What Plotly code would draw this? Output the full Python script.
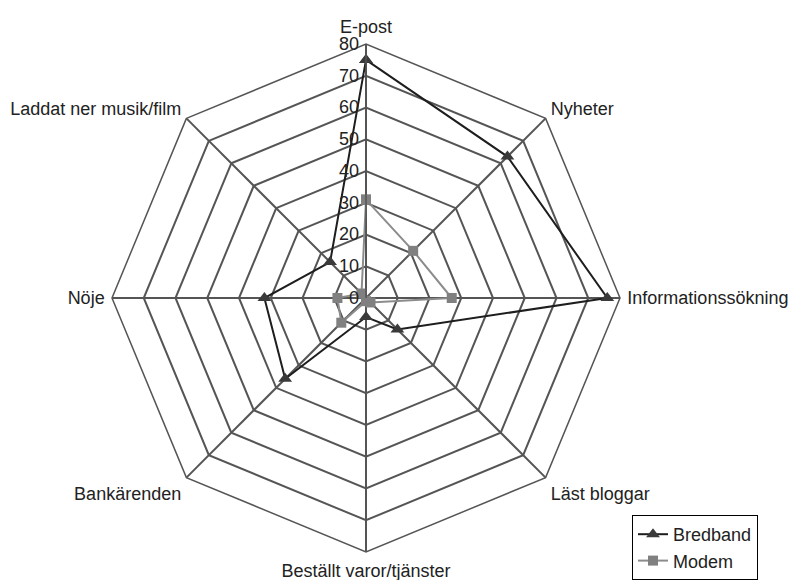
import plotly.graph_objects as go

categories = ["E-post", "Nyheter", "Informationssökning", "Läst bloggar",
              "Beställt varor/tjänster", "Bankärenden", "Nöje", "Laddat ner musik/film"]
bredband = [75, 63, 76, 14, 6, 36, 32, 16]
modem = [31, 21, 27, 2, 1, 11, 9, 2]
radial_ticks = [0, 10, 20, 30, 40, 50, 60, 70, 80]

# page has an 8px body margin, so the figure is drawn 8px in from the window edge
W, H = 801, 572
cx, cy, R = 358, 290, 254

fig = go.Figure()
fig.add_trace(go.Scatterpolar(
    r=bredband + bredband[:1], theta=categories + categories[:1],
    name="Bredband", mode="lines+markers",
    line=dict(color="#1e1e1e", width=2),
    marker=dict(symbol="triangle-up", size=12, color="#3a3a3a"),
))
fig.add_trace(go.Scatterpolar(
    r=modem + modem[:1], theta=categories + categories[:1],
    name="Modem", mode="lines+markers",
    line=dict(color="#8c8c8c", width=2),
    marker=dict(symbol="square", size=10, color="#808080"),
))

fig.update_layout(
    width=W, height=H,
    margin=dict(l=0, r=0, t=0, b=0),
    paper_bgcolor="white", plot_bgcolor="white",
    font=dict(family="Liberation Sans, Arial, sans-serif", size=18, color="#222"),
    polar=dict(
        domain=dict(x=[(cx - R) / W, (cx + R) / W], y=[1 - (cy + R) / H, 1 - (cy - R) / H]),
        bgcolor="white",
        gridshape="linear",
        angularaxis=dict(
            rotation=90, direction="clockwise",
            showline=True, linecolor="#555", linewidth=1.5,
            gridcolor="#555", gridwidth=1.5,
            ticks="outside", ticklen=3, tickcolor="rgba(0,0,0,0)",
            tickfont=dict(size=18, color="#222"),
        ),
        radialaxis=dict(
            range=[0, 80], tickvals=radial_ticks, angle=90, tickangle=90,
            showline=True, linecolor="#555", linewidth=1.5,
            gridcolor="#555", gridwidth=1.5,
            ticks="", tickfont=dict(size=18, color="#222"),
            side="counterclockwise",
        ),
    ),
    legend=dict(
        x=624 / W, y=0.0, xanchor="left", yanchor="bottom",
        bordercolor="#000", borderwidth=1, bgcolor="white",
        font=dict(size=18), tracegroupgap=0,
        entrywidth=120, entrywidthmode="pixels",
    ),
)

fig.write_html("out.html")
